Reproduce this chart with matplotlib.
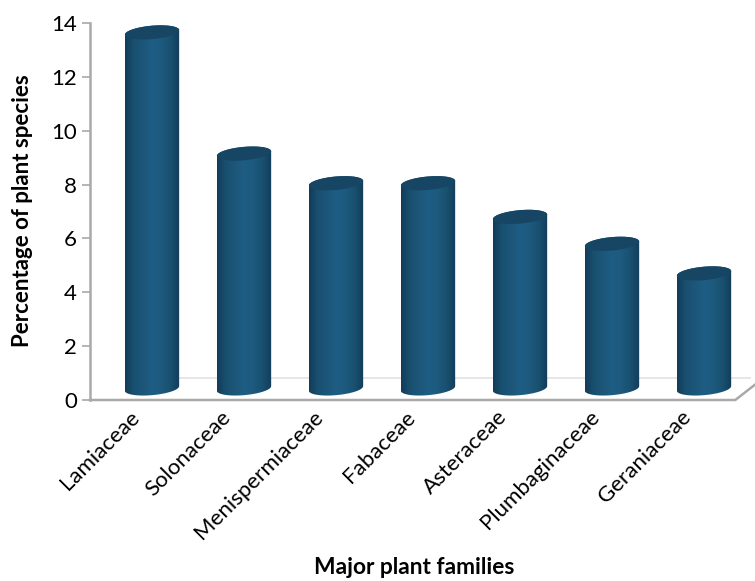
import matplotlib
matplotlib.use('Agg')
import matplotlib.pyplot as plt
import numpy as np
from matplotlib.colors import LinearSegmentedColormap
from matplotlib.patches import PathPatch, Polygon
from matplotlib.path import Path
from matplotlib.transforms import ScaledTranslation

plt.rcParams['font.family'] = ['Lato', 'DejaVu Sans']

families = ['Lamiaceae', 'Solonaceae', 'Menispermiaceae', 'Fabaceae',
            'Asteraceae', 'Plumbaginaceae', 'Geraniaceae']
# height of the top of each cylinder as read on the y axis
percent = [13.65, 9.15, 8.05, 8.05, 6.8, 5.8, 4.7]
y_ticks = [0, 2, 4, 6, 8, 10, 12, 14]

W, H = 755, 581
BASE = 0.43       # cylinders stand a little behind the front edge of the floor
HALF_W = 0.295    # x units
ELL_B = 0.25      # y units
ELL_TILT = 0.085  # y units
GREY = '#a9a9a9'

shade = LinearSegmentedColormap.from_list(
    'cyl', ['#123c59', '#195070', '#1c5779', '#1e5d84', '#1d5a7e', '#19506f', '#123c59'])


def ellipse(cx, cy, t):
    return cx + HALF_W * np.cos(t), cy + ELL_B * np.sin(t) + ELL_TILT * np.cos(t)


fig = plt.figure(figsize=(W / 100, H / 100), dpi=100)
ax = fig.add_axes([90 / W, (H - 400) / H, (W - 90) / W, 377 / H])
ax.set_xlim(-0.674, 6.554)
ax.set_ylim(0, 14)

# floor of the 3d box
ax.plot([-0.674, 6.34, 6.554], [0, 0, 0.57], color=GREY, lw=1.8, clip_on=False, zorder=2)
ax.plot([0, 6.5], [0.8, 0.8], color='#e2e2e2', lw=1.2, zorder=1)

t_all = np.linspace(0, 2 * np.pi, 120)
t_up = np.linspace(0, np.pi, 60)
gradient = np.linspace(0, 1, 256).reshape(1, -1)

for i, top in enumerate(percent):
    # body: lower half of the base ellipse, then the upper half of the top one
    bx, by = ellipse(i, BASE, -t_up)
    bx, by = bx[::-1], by[::-1]
    tx, ty = ellipse(i, top, t_up)
    body = np.column_stack([np.r_[bx, tx], np.r_[by, ty]])
    patch = PathPatch(Path(np.vstack([body, body[0]])), fc='none', ec='none',
                      transform=ax.transData)
    ax.add_patch(patch)
    im = ax.imshow(gradient, cmap=shade, aspect='auto', zorder=3,
                   extent=[i - HALF_W, i + HALF_W, 0, top + 1])
    im.set_clip_path(patch)
    ex, ey = ellipse(i, top, t_all)
    ax.add_patch(Polygon(np.column_stack([ex, ey]), closed=True, fc='#164664', ec='none', zorder=4))

ax.set_xlim(-0.674, 6.554)
ax.set_ylim(0, 14)

for side in ['top', 'right', 'bottom']:
    ax.spines[side].set_visible(False)
ax.spines['left'].set_color(GREY)
ax.spines['left'].set_linewidth(1.8)

ax.set_yticks(y_ticks)
ax.tick_params(axis='y', length=6, width=1.2, color=GREY, labelsize=16, pad=3.5)
ax.set_xticks(range(len(families)))
ax.set_xticklabels(families, rotation=45, ha='right', rotation_mode='anchor', fontsize=16)
ax.tick_params(axis='x', length=0, pad=5)
# labels sit further left of their bars than the tick position
shift = ScaledTranslation(-23 / 100, 0, fig.dpi_scale_trans)
for lab in ax.get_xticklabels():
    lab.set_transform(lab.get_transform() + shift)

fig.text(414 / W, 1 - 568 / H, 'Major plant families', ha='center', va='center',
         fontsize=16.4, fontweight='bold')
fig.text(23 / W, 1 - 211 / H, 'Percentage of plant species', ha='center', va='center',
         rotation=90, fontsize=16, fontweight='bold')

fig.savefig('out.png', dpi=100)
